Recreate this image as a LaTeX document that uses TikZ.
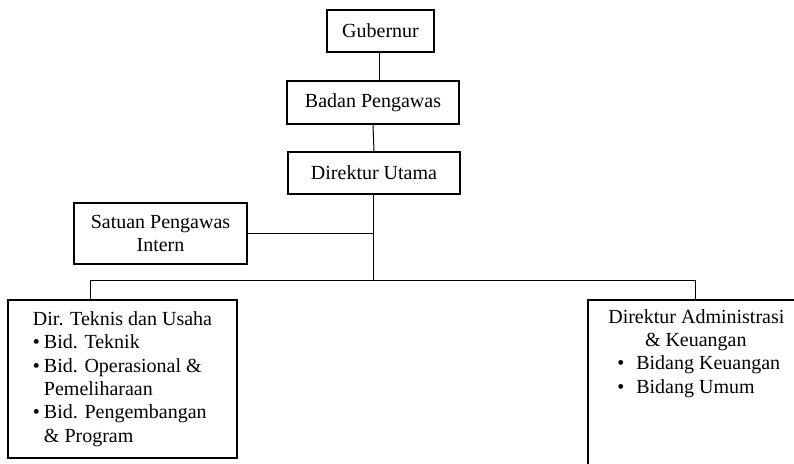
\documentclass[tikz,border=0pt]{standalone}
\usepackage{fontspec}
\setmainfont{Liberation Serif}
\usepackage{tikz}
\usetikzlibrary{positioning}

\newcommand{\bul}{\makebox[6.6pt][l]{\textbullet}}

\begin{document}
\begin{tikzpicture}[x=0.6pt,y=-0.6pt,
  kotak/.style={draw,line width=1.2pt,inner sep=0pt,align=center},
  garis/.style={line width=0.6pt},
  every node/.style={font=\fontsize{12}{14}\selectfont}]
\useasboundingbox (0,0) rectangle (794,464);
\clip (0,0) rectangle (794,464);
\node[kotak,minimum width=64.2pt,minimum height=25.2pt] (gub) at (380.5,31) {Gubernur};
\node[kotak,minimum width=103.2pt,minimum height=25.8pt] (bp) at (373,102.5) {Badan Pengawas};
\node[kotak,minimum width=103.2pt,minimum height=25.2pt] (du) at (374,173) {Direktur Utama};
\node[kotak,minimum width=103.8pt,minimum height=36.6pt] (spi) at (160.5,233.5) {Satuan Pengawas\\Intern};
\node[kotak,align=left,minimum width=137.4pt,minimum height=94.8pt] (teknis) at (122.5,379)
  {Dir. Teknis dan Usaha\\
   \bul Bid. Teknik\\
   \bul Bid. Operasional \&\\
   \hspace{6.6pt}Pemeliharaan\\
   \bul Bid. Pengembangan\\
   \hspace{6.6pt}\& Program};
\node[kotak,minimum width=133.2pt,minimum height=108pt] (adm) at (699,390) {};
\node[align=left,anchor=north west,inner sep=0pt] (admtxt) at (608,309)
  {Direktur Administrasi\\
   \hspace{22pt}\& Keuangan\\
   \hspace{5.4pt}\makebox[11.4pt][l]{\textbullet}Bidang Keuangan\\
   \hspace{5.4pt}\makebox[11.4pt][l]{\textbullet}Bidang Umum};
% garis komando
\coordinate (busL) at (90,281);
\coordinate (busR) at (695,281);
\draw[garis] (gub.south -| 379,0) -- (379,0 |- bp.north);
\draw[garis] (bp.south) -- (du.north);
\draw[garis] (373,0 |- du.south) -- (373,0 |- busL);
\draw[garis] (spi.east) -- (373,0 |- spi.east);
\draw[garis] (busL |- teknis.north) -- (busL) -- (busR) -- (busR |- adm.north);
\end{tikzpicture}
\end{document}
